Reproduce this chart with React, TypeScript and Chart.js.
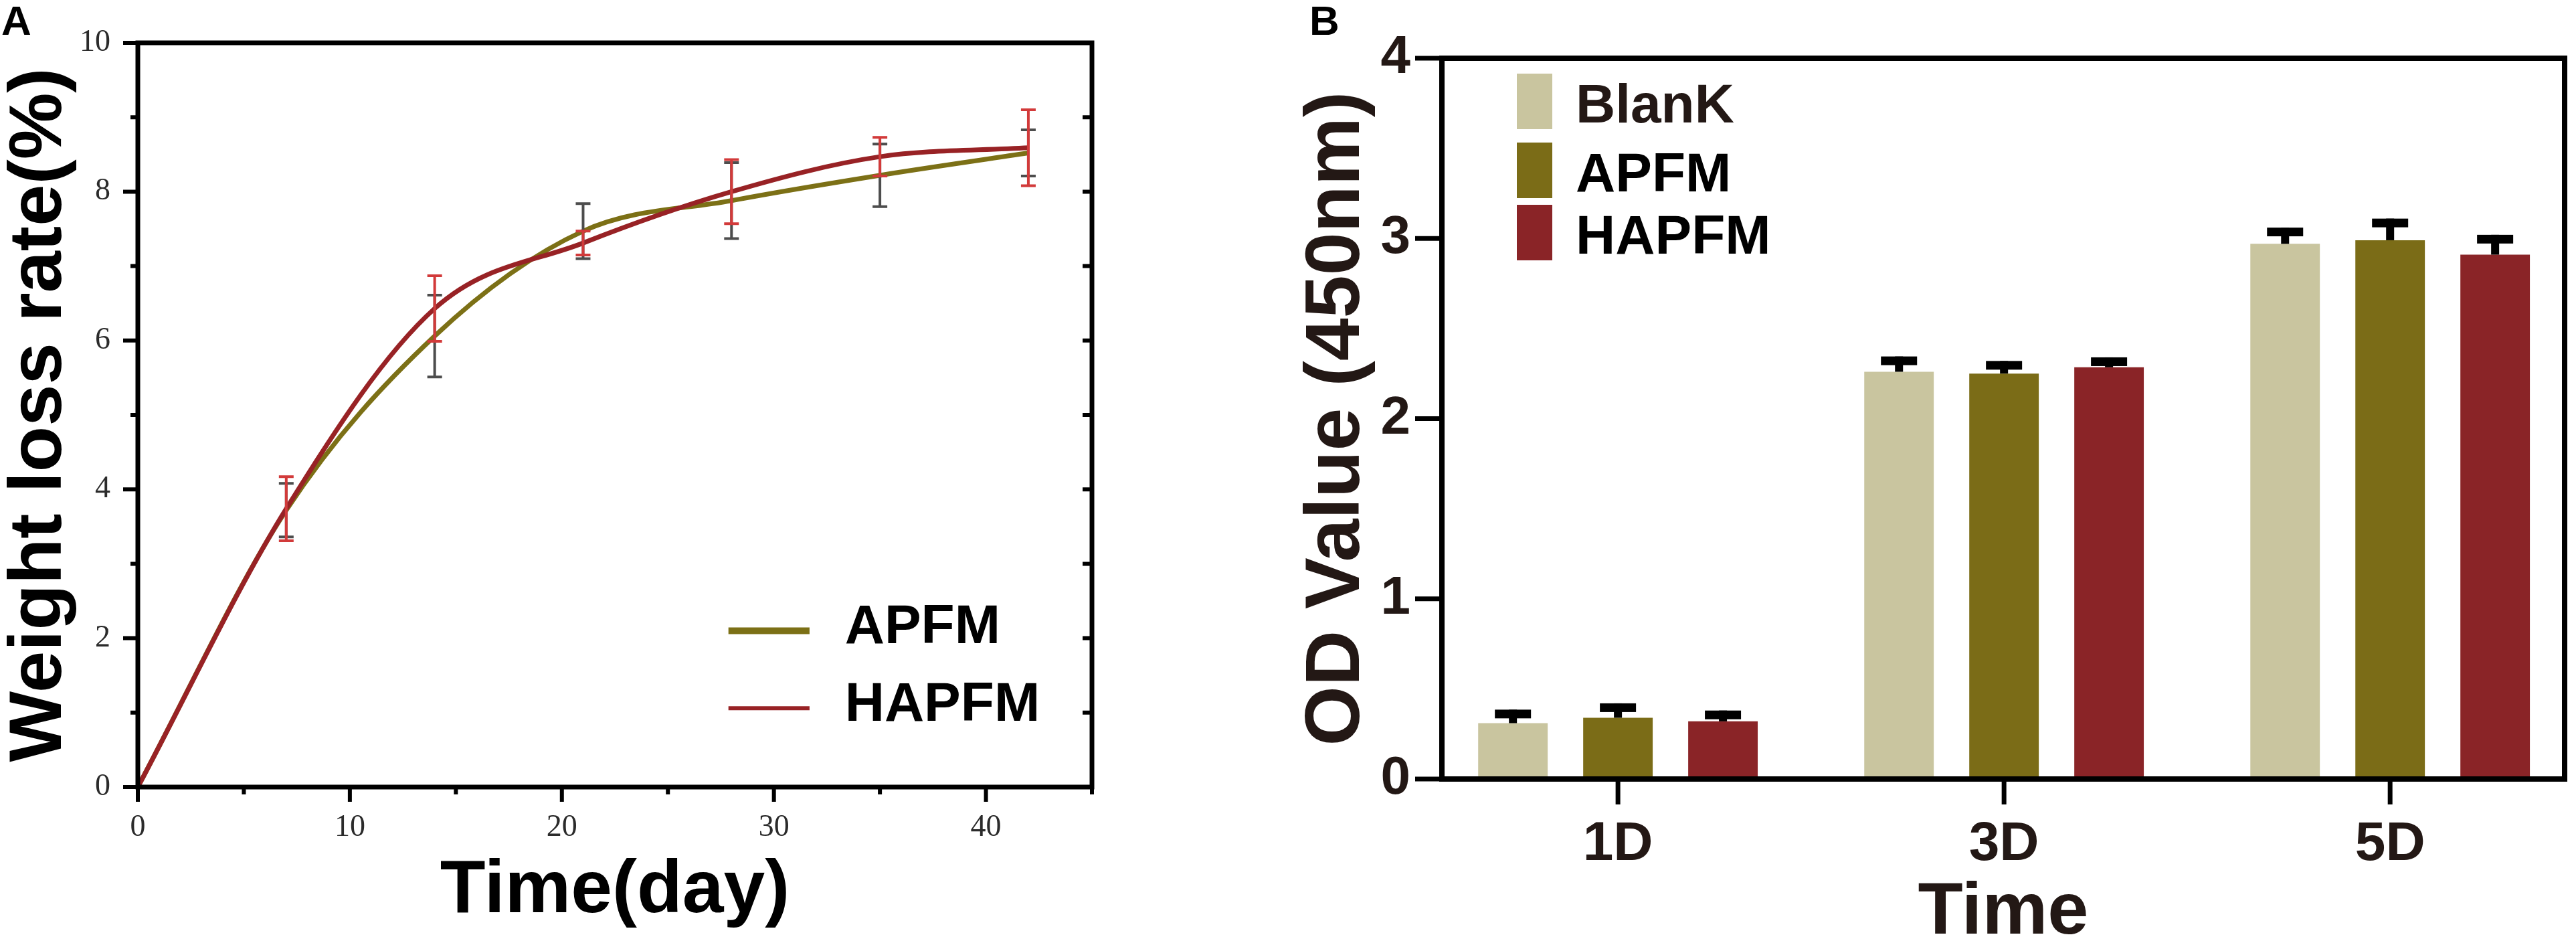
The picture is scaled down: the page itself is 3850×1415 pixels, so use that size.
import { useEffect, useRef } from 'react';
import { Chart, registerables } from 'chart.js';

Chart.register(...registerables);

const SANS = "'Liberation Sans', Arial, Helvetica, sans-serif";
const SERIF = "'Liberation Serif', 'Times New Roman', serif";

// A: weight loss rate over time
const days = [0, 7, 14, 21, 28, 35, 42];
const apfmLoss = [0, 3.72, 6.06, 7.47, 7.88, 8.22, 8.52];
const apfmLossErr = [0, 0.36, 0.55, 0.37, 0.51, 0.42, 0.31];
const hapfmLoss = [0, 3.74, 6.43, 7.31, 8.0, 8.47, 8.59];
const hapfmLossErr = [0, 0.43, 0.44, 0.16, 0.43, 0.26, 0.51];

// B: OD value at 450nm
const timePoints = ['1D', '3D', '5D'];
const blankOD = [0.31, 2.26, 2.97];
const blankErr = [0.075, 0.085, 0.09];
const apfmOD = [0.34, 2.25, 2.99];
const apfmErr = [0.08, 0.07, 0.12];
const hapfmOD = [0.32, 2.285, 2.91];
const hapfmErr = [0.06, 0.055, 0.11];

// box + origin-style ticks for panel A
const lineFrame = {
  id: 'lineFrame',
  afterDraw(chart: any) {
    const { ctx, chartArea: a, scales } = chart;
    const { x, y } = scales;
    ctx.save();
    ctx.strokeStyle = '#000';
    ctx.lineWidth = 7;
    ctx.strokeRect(a.left, a.top, a.right - a.left, a.bottom - a.top);
    ctx.lineWidth = 6;
    ctx.beginPath();
    for (let v = x.min; v <= x.max; v += 5) {
      const px = x.getPixelForValue(v);
      const len = v % 10 === 0 ? 22 : 11;
      ctx.moveTo(px, a.bottom);
      ctx.lineTo(px, a.bottom + len);
    }
    for (let v = y.min; v <= y.max; v += 1) {
      const py = y.getPixelForValue(v);
      const len = v % 2 === 0 ? 22 : 11;
      ctx.moveTo(a.left, py);
      ctx.lineTo(a.left - len, py);
      ctx.moveTo(a.right, py);
      ctx.lineTo(a.right - 14, py);
    }
    ctx.stroke();
    ctx.restore();
  },
};

const lineErrors = {
  id: 'lineErrors',
  afterDatasetsDraw(chart: any) {
    const { ctx, scales } = chart;
    const { x, y } = scales;
    ctx.save();
    ctx.lineWidth = 4;
    chart.data.datasets.forEach((ds: any) => {
      ctx.strokeStyle = ds.errorColor;
      ctx.beginPath();
      ds.data.forEach((p: any, i: number) => {
        const e = ds.errors[i];
        if (!e) return;
        const px = x.getPixelForValue(p.x);
        const hi = y.getPixelForValue(p.y + e);
        const lo = y.getPixelForValue(p.y - e);
        ctx.moveTo(px, hi);
        ctx.lineTo(px, lo);
        ctx.moveTo(px - 11, hi);
        ctx.lineTo(px + 11, hi);
        ctx.moveTo(px - 11, lo);
        ctx.lineTo(px + 11, lo);
      });
      ctx.stroke();
    });
    ctx.restore();
  },
};

const lineLegend = {
  id: 'lineLegend',
  afterDraw(chart: any) {
    const { ctx, chartArea: a } = chart;
    const w = a.right - a.left;
    const h = a.bottom - a.top;
    ctx.save();
    ctx.font = `bold 82px ${SANS}`;
    ctx.fillStyle = '#000';
    ctx.textBaseline = 'alphabetic';
    chart.data.datasets.forEach((ds: any, i: number) => {
      const ly = a.top + h * (0.79 + i * 0.104);
      ctx.strokeStyle = ds.borderColor;
      ctx.lineWidth = i === 0 ? 10 : 6;
      ctx.beginPath();
      ctx.moveTo(a.left + w * 0.619, ly);
      ctx.lineTo(a.left + w * 0.704, ly);
      ctx.stroke();
      ctx.fillText(ds.label, a.left + w * 0.741, ly + 19);
    });
    ctx.restore();
  },
};

// frame for panel B
const barFrame = {
  id: 'barFrame',
  afterDraw(chart: any) {
    const { ctx, chartArea: a, scales } = chart;
    const { x, y } = scales;
    ctx.save();
    ctx.strokeStyle = '#000';
    ctx.lineWidth = 8;
    ctx.strokeRect(a.left, a.top, a.right - a.left, a.bottom - a.top);
    ctx.lineWidth = 7;
    ctx.beginPath();
    y.ticks.forEach((t: any) => {
      const py = y.getPixelForValue(t.value);
      ctx.moveTo(a.left, py);
      ctx.lineTo(a.left - 40, py);
    });
    x.ticks.forEach((t: any) => {
      const px = x.getPixelForValue(t.value);
      ctx.moveTo(px, a.bottom);
      ctx.lineTo(px, a.bottom + 38);
    });
    ctx.stroke();
    ctx.restore();
  },
};

const barErrors = {
  id: 'barErrors',
  afterDatasetsDraw(chart: any) {
    const { ctx, scales } = chart;
    const { y } = scales;
    ctx.save();
    ctx.fillStyle = '#000';
    chart.data.datasets.forEach((ds: any, di: number) => {
      const meta = chart.getDatasetMeta(di);
      meta.data.forEach((bar: any, i: number) => {
        const v = ds.data[i].y;
        const top = y.getPixelForValue(v + ds.errors[i]);
        const base = y.getPixelForValue(v);
        ctx.fillRect(bar.x - 6, top, 12, base - top);
        ctx.fillRect(bar.x - 27, top, 54, 13);
      });
    });
    ctx.restore();
  },
};

const barLegend = {
  id: 'barLegend',
  afterDraw(chart: any) {
    const { ctx, chartArea: a } = chart;
    ctx.save();
    ctx.font = `bold 82px ${SANS}`;
    ctx.textBaseline = 'alphabetic';
    const rows = [23, 126, 219];
    chart.data.datasets.forEach((ds: any, i: number) => {
      const top = a.top + rows[i];
      ctx.fillStyle = ds.backgroundColor;
      ctx.fillRect(a.left + 112, top, 53, 83);
      ctx.fillStyle = i === 0 ? '#231815' : '#000';
      ctx.fillText(ds.label, a.left + 200, top + 73);
    });
    ctx.restore();
  },
};

function WeightLossChart() {
  const canvasRef = useRef<HTMLCanvasElement | null>(null);

  useEffect(() => {
    if (!canvasRef.current) return;
    const chart = new Chart(canvasRef.current, {
      type: 'line',
      data: {
        datasets: [
          {
            label: 'APFM',
            data: days.map((d, i) => ({ x: d, y: apfmLoss[i] })),
            errors: apfmLossErr,
            errorColor: '#4d4d4d',
            borderColor: '#7c7016',
            borderWidth: 7,
            pointRadius: 0,
            cubicInterpolationMode: 'monotone',
            order: 1,
          },
          {
            label: 'HAPFM',
            data: days.map((d, i) => ({ x: d, y: hapfmLoss[i] })),
            errors: hapfmLossErr,
            errorColor: '#d23a3a',
            borderColor: '#982225',
            borderWidth: 7,
            pointRadius: 0,
            cubicInterpolationMode: 'monotone',
            order: 0,
          },
        ] as any,
      },
      options: {
        responsive: false,
        animation: false,
        devicePixelRatio: 1,
        layout: { padding: { top: 26, right: 68, left: 0, bottom: 0 } },
        plugins: { legend: { display: false }, tooltip: { enabled: false } },
        scales: {
          x: {
            type: 'linear',
            min: 0,
            max: 45,
            grid: { display: false, drawTicks: false, tickLength: 0 },
            border: { display: false },
            ticks: {
              stepSize: 10,
              includeBounds: false,
              padding: 38,
              maxRotation: 0,
              autoSkip: false,
              color: '#2b2b2b',
              font: { family: SERIF, size: 46, lineHeight: 1 },
            },
            title: {
              display: true,
              text: 'Time(day)',
              color: '#000',
              font: { family: SANS, size: 111, weight: 'bold', lineHeight: 1 },
              padding: { top: 0, bottom: 112 },
            },
            afterFit: (s: any) => {
              s.height = 324;
            },
          },
          y: {
            min: 0,
            max: 10,
            grid: { display: false, drawTicks: false, tickLength: 0 },
            border: { display: false },
            ticks: {
              stepSize: 2,
              padding: 41,
              color: '#2b2b2b',
              font: { family: SERIF, size: 46, lineHeight: 1 },
            },
            title: {
              display: true,
              text: 'Weight loss rate(%)',
              color: '#000',
              font: { family: SANS, size: 112, weight: 'bold', lineHeight: 1 },
              padding: { top: 4, bottom: 0 },
            },
            afterFit: (s: any) => {
              s.width = 206;
            },
          },
        },
      } as any,
      plugins: [lineFrame, lineErrors, lineLegend],
    });
    return () => chart.destroy();
  }, []);

  return <canvas ref={canvasRef} width={1700} height={1500} style={{ display: 'block' }} />;
}

function OdBarChart() {
  const canvasRef = useRef<HTMLCanvasElement | null>(null);

  useEffect(() => {
    if (!canvasRef.current) return;
    const series = [
      { label: 'BlanK', values: blankOD, errors: blankErr, color: '#c9c59f' },
      { label: 'APFM', values: apfmOD, errors: apfmErr, color: '#7b6c17' },
      { label: 'HAPFM', values: hapfmOD, errors: hapfmErr, color: '#8a2427' },
    ];
    const chart = new Chart(canvasRef.current, {
      type: 'bar',
      data: {
        datasets: series.map((s) => ({
          label: s.label,
          data: timePoints.map((_, i) => ({ x: i, y: s.values[i] })),
          errors: s.errors,
          backgroundColor: s.color,
          borderWidth: 0,
          categoryPercentage: 0.816,
          barPercentage: 0.662,
        })) as any,
      },
      options: {
        responsive: false,
        animation: false,
        devicePixelRatio: 1,
        layout: { padding: { top: 44, right: 17, left: 0, bottom: 0 } },
        plugins: { legend: { display: false }, tooltip: { enabled: false } },
        scales: {
          x: {
            type: 'linear',
            min: -0.456,
            max: 2.452,
            offset: false,
            grid: { display: false, drawTicks: false, tickLength: 0 },
            border: { display: false },
            afterBuildTicks: (s: any) => {
              s.ticks = timePoints.map((_, i) => ({ value: i }));
            },
            ticks: {
              padding: 57,
              maxRotation: 0,
              autoSkip: false,
              color: '#231815',
              callback: (v: any) => timePoints[v] ?? '',
              font: { family: SANS, size: 82, weight: 'bold', lineHeight: 1 },
            },
            title: {
              display: true,
              text: 'Time',
              color: '#231815',
              font: { family: SANS, size: 110, weight: 'bold', lineHeight: 1 },
              padding: { top: 0, bottom: 80 },
            },
            afterFit: (s: any) => {
              s.height = 336;
            },
          },
          y: {
            min: 0,
            max: 4,
            grid: { display: false, drawTicks: false, tickLength: 0 },
            border: { display: false },
            ticks: {
              stepSize: 1,
              padding: 47,
              color: '#231815',
              font: { family: SANS, size: 80, weight: 'bold', lineHeight: 1 },
            },
            title: {
              display: true,
              text: 'OD Value (450nm)',
              color: '#231815',
              font: { family: SANS, size: 115, weight: 'bold', lineHeight: 1 },
              padding: { top: 42, bottom: 0 },
            },
            afterFit: (s: any) => {
              s.width = 255;
            },
          },
        },
      } as any,
      plugins: [barFrame, barErrors, barLegend],
    });
    return () => chart.destroy();
  }, []);

  return <canvas ref={canvasRef} width={1950} height={1500} style={{ display: 'block' }} />;
}

const panelLabel: React.CSSProperties = {
  position: 'absolute',
  top: 0,
  fontFamily: SANS,
  fontWeight: 'bold',
  fontSize: 62,
  lineHeight: 1,
  color: '#000',
};

export default function App() {
  return (
    <div
      style={{
        position: 'fixed',
        left: 0,
        top: 0,
        width: 3850,
        height: 1415,
        overflow: 'hidden',
        background: '#fff',
      }}
    >
      <div style={{ position: 'absolute', left: 0, top: 0 }}>
        <WeightLossChart />
      </div>
      <div style={{ position: 'absolute', left: 1900, top: 0 }}>
        <OdBarChart />
      </div>
      <div style={{ ...panelLabel, left: 2 }}>A</div>
      <div style={{ ...panelLabel, left: 1957 }}>B</div>
    </div>
  );
}
